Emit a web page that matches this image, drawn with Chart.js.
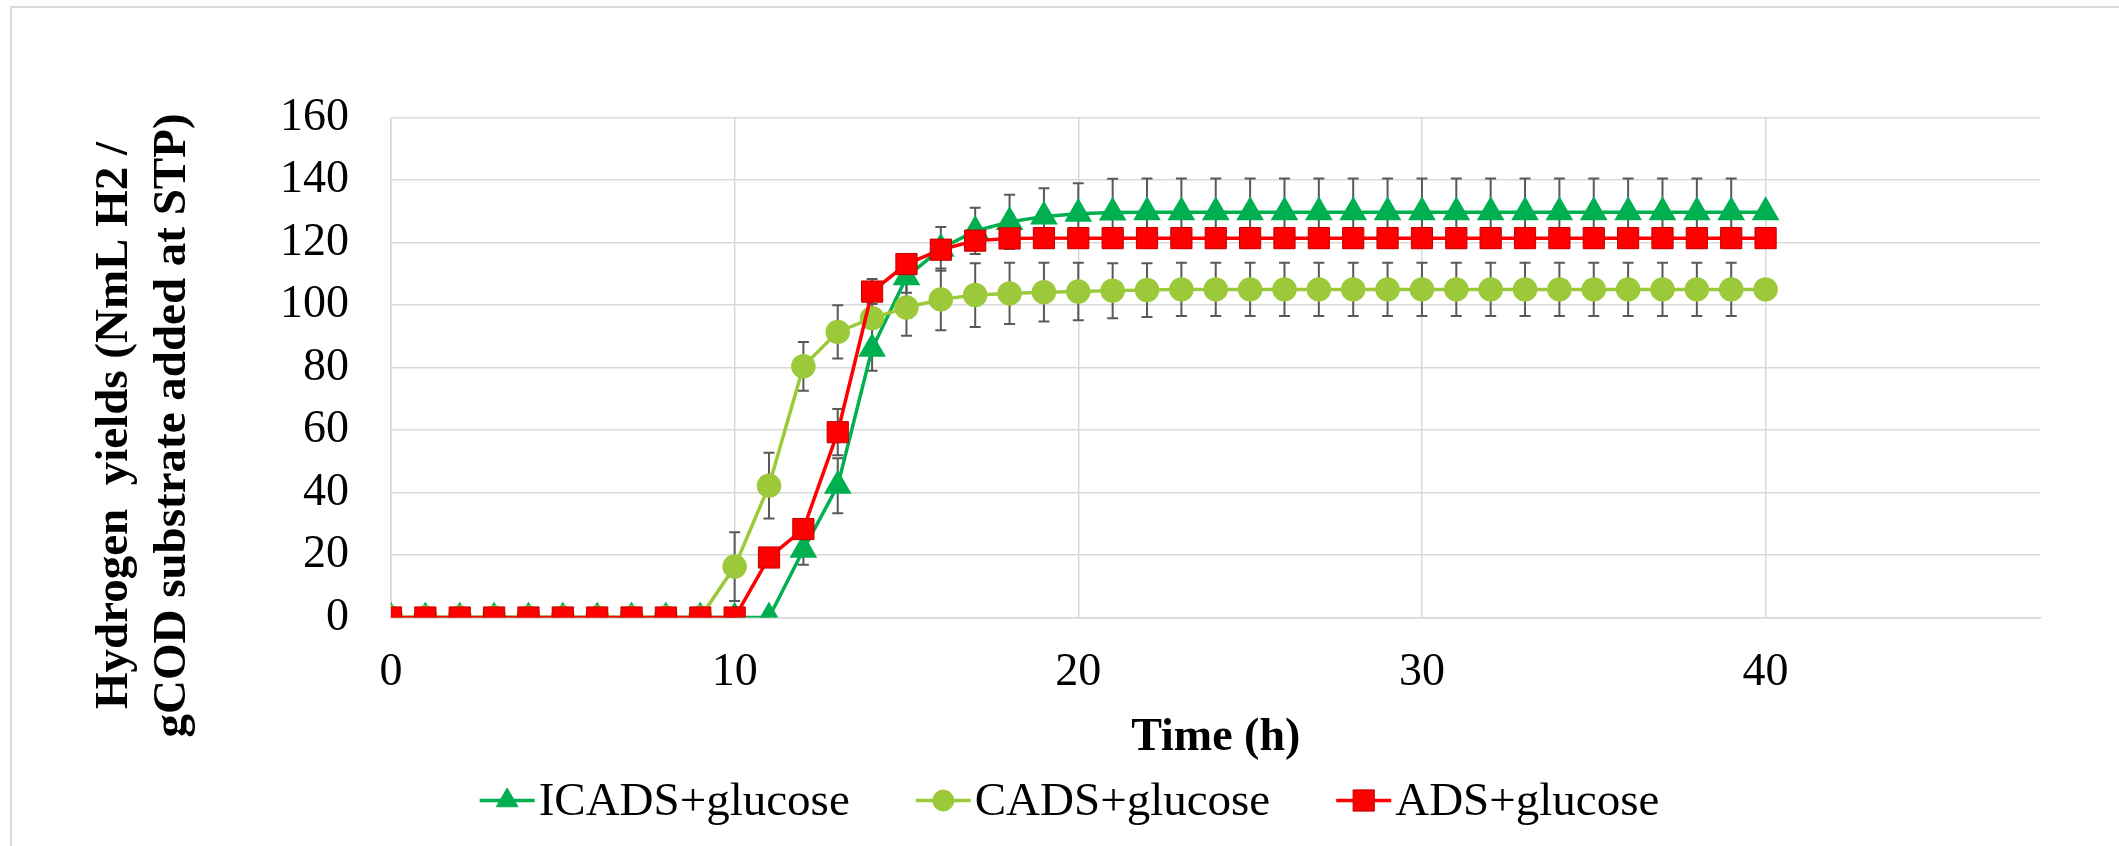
<!DOCTYPE html>
<html>
<head>
<meta charset="utf-8">
<script src="https://cdn.jsdelivr.net/npm/chart.js@4/dist/chart.umd.min.js"></script>
<style>
  html, body { margin: 0; padding: 0; background: #fff; }
  #wrap { position: relative; width: 2119px; height: 846px; overflow: hidden; }
  #frame { position: absolute; left: 10px; top: 6px; width: 2300px; height: 1000px;
           border-left: 2px solid #D9D9D9; border-top: 2px solid #D9D9D9; }
  #box { position: absolute; left: 0; top: 0; width: 2119px; height: 846px; }
</style>
</head>
<body>
<div id="wrap">
  <div id="frame"></div>
  <div id="box"><canvas id="h2Chart"></canvas></div>
</div>
<script>
// Time (h)
const hours = [0, 1, 2, 3, 4, 5, 6, 7, 8, 9, 10, 11, 12, 13, 14, 15, 16, 17, 18, 19, 20,
  21, 22, 23, 24, 25, 26, 27, 28, 29, 30, 31, 32, 33, 34, 35, 36, 37, 38, 39, 40];

// Hydrogen yields (NmL H2 / gCOD)
const icads = [0, 0, 0, 0, 0, 0, 0, 0, 0, 0, 0, 0, 21.7, 42.2, 86, 108.9, 118, 123.7, 126.6, 128.3, 129.2,
  129.6, 129.7, 129.7, 129.7, 129.7, 129.7, 129.7, 129.7, 129.7, 129.7, 129.7, 129.7, 129.7, 129.7, 129.7, 129.7, 129.7, 129.7, 129.7, 129.7];
const cads = [0, 0, 0, 0, 0, 0, 0, 0, 0, 0, 16.3, 42.2, 80.4, 91.4, 95.8, 99.2, 101.8, 103.2, 103.7, 104.1, 104.3,
  104.6, 104.8, 105, 105, 105, 105, 105, 105, 105, 105, 105, 105, 105, 105, 105, 105, 105, 105, 105, 105];
const ads = [0, 0, 0, 0, 0, 0, 0, 0, 0, 0, 0, 19.2, 28.3, 59.3, 104.3, 113.1, 117.7, 120.6, 121.3, 121.4, 121.4,
  121.4, 121.4, 121.4, 121.4, 121.4, 121.4, 121.4, 121.4, 121.4, 121.4, 121.4, 121.4, 121.4, 121.4, 121.4, 121.4, 121.4, 121.4, 121.4, 121.4];

// standard deviations (error bars), 0 = no bar
const icadsErr = [0, 0, 0, 0, 0, 0, 0, 0, 0, 0, 0, 0, 4.8, 8.8, 7, 5, 7, 7.4, 8.7, 9.1, 9.8,
  10.8, 10.8, 10.8, 10.8, 10.8, 10.8, 10.8, 10.8, 10.8, 10.8, 10.8, 10.8, 10.8, 10.8, 10.8, 10.8, 10.8, 10.8, 10.8, 0];
const cadsErr = [0, 0, 0, 0, 0, 0, 0, 0, 0, 0, 11, 10.5, 7.8, 8.5, 8, 9, 9.9, 10.2, 9.8, 9.4, 9.2,
  8.8, 8.6, 8.5, 8.5, 8.5, 8.5, 8.5, 8.5, 8.5, 8.5, 8.5, 8.5, 8.5, 8.5, 8.5, 8.5, 8.5, 8.5, 8.5, 0];
const adsErr = [0, 0, 0, 0, 0, 0, 0, 0, 0, 0, 0, 2, 2, 7.4, 4, 3, 3, 3, 3, 3, 3,
  3, 3, 3, 3, 3, 3, 3, 3, 3, 3, 3, 3, 3, 3, 3, 3, 3, 3, 3, 0];

const xTicks = [0, 10, 20, 30, 40];
const yTicks = [0, 20, 40, 60, 80, 100, 120, 140, 160];

const serif = "'Liberation Serif', 'Times New Roman', serif";
const gridColor = "#D9D9D9";

const toPoints = (vals) => vals.map((v, i) => ({ x: hours[i], y: v }));

// error bars, drawn under the markers
const errorBars = {
  id: "errorBars",
  beforeDatasetsDraw(chart) {
    const { ctx } = chart;
    const xs = chart.scales.x;
    const ys = chart.scales.y;
    ctx.save();
    ctx.strokeStyle = "#595959";
    ctx.lineWidth = 2;
    chart.data.datasets.forEach((ds) => {
      ds.errors.forEach((e, i) => {
        if (!e) return;
        const v = ds.values[i];
        const px = xs.getPixelForValue(hours[i]);
        const top = ys.getPixelForValue(v + e);
        const bot = ys.getPixelForValue(v - e);
        ctx.beginPath();
        ctx.moveTo(px, top); ctx.lineTo(px, bot);
        ctx.moveTo(px - 5.5, top); ctx.lineTo(px + 5.5, top);
        ctx.moveTo(px - 5.5, bot); ctx.lineTo(px + 5.5, bot);
        ctx.stroke();
      });
    });
    ctx.restore();
  },
};

function drawMarker(ctx, ds, cx, cy) {
  ctx.fillStyle = ds.pointBackgroundColor;
  ctx.strokeStyle = ds.pointBorderColor;
  ctx.lineWidth = 1;
  ctx.beginPath();
  const r = ds.pointRadius;
  if (ds.pointStyle === "triangle") {
    ctx.moveTo(cx, cy - r);
    ctx.lineTo(cx + 0.866 * r, cy + r / 2);
    ctx.lineTo(cx - 0.866 * r, cy + r / 2);
    ctx.closePath();
  } else if (ds.pointStyle === "rect") {
    const s = Math.SQRT1_2 * r;
    ctx.rect(cx - s, cy - s, 2 * s, 2 * s);
  } else {
    ctx.arc(cx, cy, r, 0, Math.PI * 2);
  }
  ctx.fill();
  ctx.stroke();
}

// axis titles and legend in the Excel layout
const textLayer = {
  id: "textLayer",
  afterDraw(chart) {
    const { ctx, chartArea } = chart;
    ctx.save();
    ctx.fillStyle = "#000";
    ctx.textAlign = "center";
    ctx.textBaseline = "middle";

    // x title
    ctx.font = "bold 46px " + serif;
    ctx.fillText("Time (h)", (chartArea.left + chartArea.right) / 2, chartArea.bottom + 121);

    // y title (two lines, rotated)
    ctx.save();
    ctx.translate(chartArea.left - 247, (chartArea.top + chartArea.bottom) / 2 + 58);
    ctx.rotate(-Math.PI / 2);
    ctx.font = "bold 47px " + serif;
    ctx.fillText("Hydrogen  yields (NmL H2 /", 0, -29);
    ctx.fillText("gCOD substrate added at STP)", 0, 29);
    ctx.restore();

    // legend
    ctx.font = "47px " + serif;
    ctx.textAlign = "left";
    const lineLen = 55, gap = 4, itemGap = 66;
    const items = chart.data.datasets.map((ds) => ({ ds, w: ctx.measureText(ds.label).width }));
    const total = items.reduce((s, it) => s + lineLen + gap + it.w, 0) + itemGap * (items.length - 1);
    let x = chart.width / 2 + 10 - total / 2;
    const y = chartArea.bottom + 183;
    items.forEach((it) => {
      ctx.strokeStyle = it.ds.borderColor;
      ctx.lineWidth = it.ds.borderWidth;
      ctx.beginPath();
      ctx.moveTo(x, y); ctx.lineTo(x + lineLen, y);
      ctx.stroke();
      drawMarker(ctx, it.ds, x + lineLen / 2, y);
      ctx.fillStyle = "#000";
      ctx.fillText(it.ds.label, x + lineLen + gap, y + 2);
      x += lineLen + gap + it.w + itemGap;
    });
    ctx.restore();
  },
};

const ctxH2 = document.getElementById("h2Chart").getContext("2d");
const h2Chart = new Chart(ctxH2, {
  type: "line",
  data: {
    datasets: [
      {
        label: "ICADS+glucose",
        data: toPoints(icads),
        values: icads,
        errors: icadsErr,
        borderColor: "#00B050",
        borderWidth: 3.5,
        pointStyle: "triangle",
        pointRadius: 12.5,
        pointBackgroundColor: "#00B050",
        pointBorderColor: "#00B050",
        order: 2,
      },
      {
        label: "CADS+glucose",
        data: toPoints(cads),
        values: cads,
        errors: cadsErr,
        borderColor: "#9BC93A",
        borderWidth: 3.5,
        pointStyle: "circle",
        pointRadius: 10.5,
        pointBackgroundColor: "#9BC93A",
        pointBorderColor: "#9BC93A",
        order: 1,
      },
      {
        label: "ADS+glucose",
        data: toPoints(ads),
        values: ads,
        errors: adsErr,
        borderColor: "#FF0000",
        borderWidth: 3.5,
        pointStyle: "rect",
        pointRadius: 15,
        pointBackgroundColor: "#FF0000",
        pointBorderColor: "#C00000",
        pointBorderWidth: 1,
        order: 0,
      },
    ],
  },
  options: {
    responsive: true,
    maintainAspectRatio: false,
    animation: false,
    layout: { padding: { top: 117.5, right: 78.5, left: 0, bottom: 0 } },
    elements: { line: { tension: 0 } },
    scales: {
      x: {
        type: "linear",
        min: 0,
        max: 48,
        afterFit: (s) => { s.height = 228.5; },
        afterBuildTicks: (s) => { s.ticks = xTicks.map((v) => ({ value: v })); },
        grid: { color: gridColor, lineWidth: 1.5, drawTicks: false },
        border: { color: gridColor, width: 1.5 },
        ticks: {
          padding: 28,
          color: "#000",
          font: { family: serif, size: 46 },
        },
      },
      y: {
        min: 0,
        max: 160,
        afterFit: (s) => { s.width = 391; },
        afterBuildTicks: (s) => { s.ticks = yTicks.map((v) => ({ value: v })); },
        grid: { color: gridColor, lineWidth: 1.5, drawTicks: false },
        border: { color: gridColor, width: 1.5 },
        ticks: {
          padding: 42,
          color: "#000",
          font: { family: serif, size: 46 },
        },
      },
    },
    plugins: {
      legend: { display: false },
      title: { display: false },
      tooltip: { enabled: false },
    },
  },
  plugins: [errorBars, textLayer],
});
</script>
</body>
</html>
